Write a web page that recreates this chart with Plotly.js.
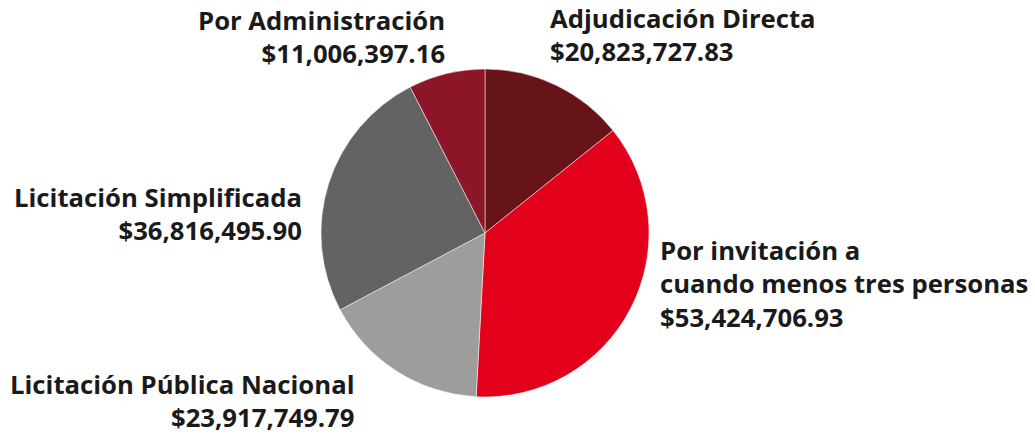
<!DOCTYPE html>
<html>
<head>
<meta charset="utf-8">
<script src="https://cdn.plot.ly/plotly-3.0.1.min.js"></script>
<style>html,body{margin:0;padding:0;background:#fff;}#chart{width:1035px;height:436px;}</style>
</head>
<body>
<div id="chart"></div>
<script>
const categories = ["Adjudicación Directa", "Por invitación a<br>cuando menos tres personas", "Licitación Pública Nacional", "Licitación Simplificada", "Por Administración"];
const values = [20823727.83, 53424706.93, 23917749.79, 36816495.90, 11006397.16];
const valueLabels = ["$20,823,727.83", "$53,424,706.93", "$23,917,749.79", "$36,816,495.90", "$11,006,397.16"];
const colors = ["#661417", "#e2001a", "#9d9d9c", "#636363", "#8c1628"];

const W = 1035, H = 436;
const cx = 485, cy = 233, r = 164;

// label placement (px): x, block centre y, anchor
const labelPos = [
  {x: 549, y: 35, xa: "left"},
  {x: 659, y: 283.5, xa: "left"},
  {x: 356, y: 401, xa: "right"},
  {x: 303, y: 213.5, xa: "right"},
  {x: 446, y: 37.5, xa: "right"}
];

const annotations = categories.map((c, i) => ({
  text: "<b>" + c + "<br>" + valueLabels[i] + "</b>",
  x: labelPos[i].x / W,
  y: 1 - labelPos[i].y / H,
  xref: "paper", yref: "paper",
  xanchor: labelPos[i].xa, yanchor: "middle",
  align: labelPos[i].xa,
  borderpad: 0,
  showarrow: false,
  font: {family: "'Open Sans', sans-serif", size: 25.7, color: "#1a1a1a"}
}));

const trace = {
  type: "pie",
  labels: categories.map(c => c.replace("<br>", " ")),
  values: values,
  sort: false,
  direction: "clockwise",
  rotation: 0,
  marker: {colors: colors, line: {color: "#ffffff", width: 0.5}},
  textinfo: "none",
  hoverinfo: "label+value",
  domain: {x: [(cx - r) / W, (cx + r) / W], y: [(H - cy - r) / H, (H - cy + r) / H]},
  showlegend: false
};

Plotly.newPlot("chart", [trace], {
  width: W, height: H,
  margin: {l: 0, r: 0, t: 0, b: 0},
  paper_bgcolor: "#fff",
  annotations: annotations,
  showlegend: false
}, {displayModeBar: false, staticPlot: true});
</script>
</body>
</html>
